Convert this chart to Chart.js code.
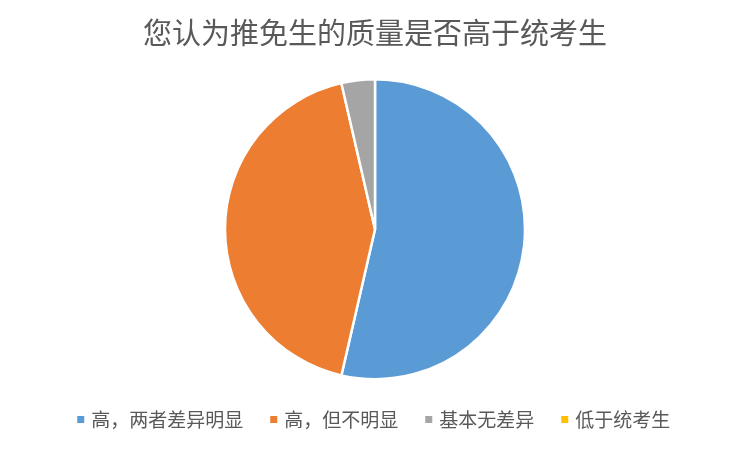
<!DOCTYPE html>
<html>
<head>
<meta charset="utf-8">
<script src="https://cdn.jsdelivr.net/npm/chart.js@4"></script>
<style>
  html, body { margin: 0; padding: 0; background: #fff; }
  #wrap { width: 750px; height: 449px; }
</style>
</head>
<body>
<div id="wrap"><canvas id="pie-chart"></canvas></div>
<script>
// pie data
const titleText = '您认为推免生的质量是否高于统考生'
const categories = ['高，两者差异明显', '高，但不明显', '基本无差异', '低于统考生']
const values = [53.6, 42.8, 3.6, 0]
const colors = ['#5B9BD5', '#ED7D31', '#A5A5A5', '#FFC000']

const ctx = document.getElementById('pie-chart').getContext('2d')
const defaultLabels = Chart.overrides.pie.plugins.legend.labels.generateLabels

const pieChart = new Chart(ctx, {
  type: 'pie',
  data: {
    labels: categories,
    datasets: [
      {
        data: values,
        backgroundColor: colors,
        borderColor: '#fff',
        borderWidth: 2.5,
      },
    ],
  },
  options: {
    responsive: true,
    maintainAspectRatio: false,
    animation: false,
    layout: {
      padding: { top: 0, bottom: 10, left: 0, right: 0 },
    },
    plugins: {
      title: {
        display: true,
        text: titleText,
        color: '#595959',
        font: { family: '"Noto Sans CJK SC", sans-serif', size: 29, weight: 'normal' },
        padding: { top: 15.6, bottom: 27.6 },
      },
      legend: {
        position: 'bottom',
        labels: {
          color: '#595959',
          font: { family: '"Noto Sans CJK SC", sans-serif', size: 19 },
          // small boxWidth keeps the text close to the square marker
          usePointStyle: true,
          pointStyle: 'rect',
          boxWidth: 2,
          boxHeight: 7,
          padding: 29.5,
          generateLabels: function (chart) {
            // no white slice border on the legend squares
            return defaultLabels(chart).map(function (item) {
              item.lineWidth = 0
              return item
            })
          },
        },
      },
      tooltip: { enabled: false },
    },
  },
})
</script>
</body>
</html>
